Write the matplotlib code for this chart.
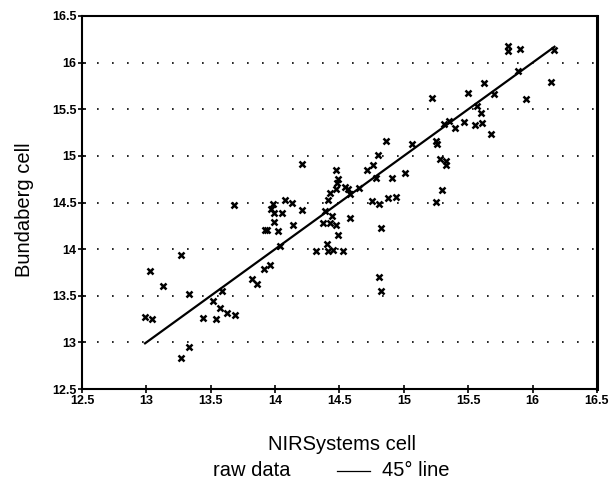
import matplotlib
matplotlib.use("Agg")
import matplotlib.pyplot as plt
import numpy as np
from matplotlib.lines import Line2D
from matplotlib.ticker import FuncFormatter

plt.rcParams["font.family"] = ["Liberation Sans", "DejaVu Sans"]

# NIRSystems cell (x) vs Bundaberg cell (y)
nir = [12.99, 13.04, 13.03, 13.13, 13.27, 13.33, 13.27, 13.33, 13.44, 13.54,
       13.52, 13.57, 13.59, 13.63, 13.69, 13.68, 13.82, 13.86, 13.91, 13.96,
       13.92, 13.94, 14.02, 14.04, 13.98, 13.97, 13.99, 14.05, 14.08, 14.13,
       14.21, 13.99, 14.14, 14.21, 14.32, 14.40, 14.41, 14.45, 14.53, 14.37,
       14.43, 14.47, 14.49, 14.39, 14.44, 14.58, 14.41, 14.43, 14.47, 14.48,
       14.47, 14.49, 14.54, 14.57, 14.58, 14.65, 14.71, 14.76, 14.80, 14.78,
       14.75, 14.81, 14.82, 14.81, 14.82, 14.86, 14.88, 14.94, 14.91, 15.01,
       15.06, 15.25, 15.30, 15.25, 15.26, 15.28, 15.33, 15.33, 15.31, 15.35,
       15.40, 15.47, 15.55, 15.61, 15.68, 15.22, 15.50, 15.62, 15.70, 15.57,
       15.60, 15.81, 15.81, 15.90, 15.89, 15.95, 16.14, 16.17]
bund = [13.27, 13.25, 13.77, 13.60, 13.94, 13.52, 12.83, 12.95, 13.26, 13.25,
        13.44, 13.37, 13.55, 13.31, 13.29, 14.47, 13.68, 13.63, 13.79, 13.83,
        14.20, 14.20, 14.19, 14.03, 14.48, 14.43, 14.39, 14.39, 14.53, 14.50,
        14.42, 14.29, 14.26, 14.91, 13.98, 14.05, 13.98, 13.99, 13.98, 14.28,
        14.28, 14.26, 14.15, 14.41, 14.36, 14.33, 14.53, 14.60, 14.64, 14.71,
        14.85, 14.75, 14.67, 14.65, 14.59, 14.66, 14.85, 14.90, 15.01, 14.76,
        14.52, 14.48, 14.23, 13.70, 13.55, 15.16, 14.55, 14.56, 14.76, 14.82,
        15.13, 14.51, 14.63, 15.16, 15.13, 14.97, 14.94, 14.90, 15.34, 15.37,
        15.30, 15.36, 15.33, 15.35, 15.23, 15.62, 15.67, 15.78, 15.66, 15.53,
        15.46, 16.18, 16.12, 16.15, 15.91, 15.61, 15.79, 16.14]

ticks = [12.5, 13, 13.5, 14, 14.5, 15, 15.5, 16, 16.5]
grid_levels = [13, 13.5, 14, 14.5, 15, 15.5, 16]


def main():
    fig = plt.figure(figsize=(6.15, 4.95), dpi=100)
    ax = fig.add_axes([0.1333, 0.2141, 0.8374, 0.7536])

    for g in grid_levels:
        ax.axhline(g, color="black", lw=1.2, linestyle=(0, (1, 8)), zorder=1)

    lo, hi = min(nir), max(nir)
    ax.plot([lo, hi], [lo, hi], color="black", lw=1.6, zorder=2)
    ax.plot(nir, bund, linestyle="none", marker="x", color="black",
            markersize=5, markeredgewidth=1.8, zorder=3)

    ax.set_xlim(12.5, 16.5)
    ax.set_ylim(12.5, 16.5)
    ax.set_xticks(ticks)
    ax.set_yticks(ticks)
    fmt = FuncFormatter(lambda v, p: f"{v:g}")
    ax.xaxis.set_major_formatter(fmt)
    ax.yaxis.set_major_formatter(fmt)
    ax.tick_params(direction="inout", length=6, width=1.2, labelsize=9, pad=1)
    for lab in ax.get_xticklabels() + ax.get_yticklabels():
        lab.set_fontweight("bold")
    for sp in ax.spines.values():
        sp.set_linewidth(1.5)
    ax.spines["right"].set_linewidth(2.2)

    fig.text(24 / 615, 1 - 210 / 495, "Bundaberg cell", rotation=90,
             ha="center", va="center", fontsize=14.5)
    fig.text(342 / 615, 1 - 444 / 495, "NIRSystems cell",
             ha="center", va="center", fontsize=14.5)

    fig.text(213 / 615, 1 - 471 / 495, "raw data", ha="left", va="center", fontsize=14.5)
    fig.lines.append(Line2D([337 / 615, 370 / 615], [1 - 471 / 495, 1 - 471 / 495],
                            transform=fig.transFigure, color="black", lw=0.9))
    fig.text(382 / 615, 1 - 471 / 495, "45° line", ha="left", va="center", fontsize=14.5)

    fig.savefig("out.png", dpi=100)


if __name__ == "__main__":
    main()
